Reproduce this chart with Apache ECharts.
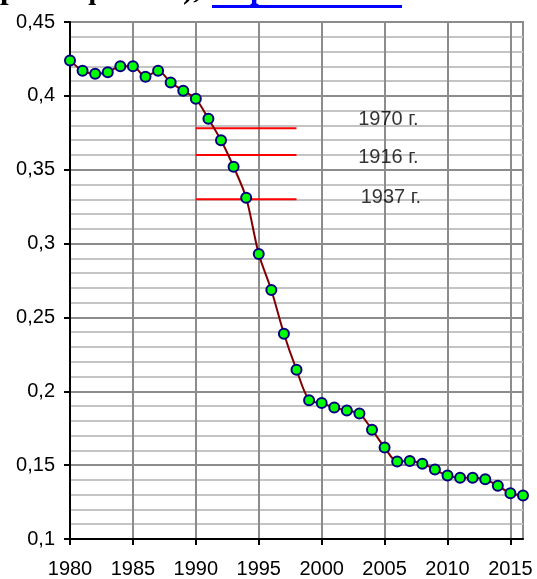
<!DOCTYPE html>
<html>
<head>
<meta charset="utf-8">
<script src="https://cdn.jsdelivr.net/npm/echarts@6/dist/echarts.min.js"></script>
<style>
  html, body { margin: 0; padding: 0; background: #fff; }
  #chart { width: 537px; height: 579px; }
</style>
</head>
<body>
<div id="chart"></div>
<script>
var years = [1980, 1981, 1982, 1983, 1984, 1985, 1986, 1987, 1988, 1989,
  1990, 1991, 1992, 1993, 1994, 1995, 1996, 1997, 1998, 1999,
  2000, 2001, 2002, 2003, 2004, 2005, 2006, 2007, 2008, 2009,
  2010, 2011, 2012, 2013, 2014, 2015, 2016];
var values = [0.424, 0.417, 0.415, 0.416, 0.420, 0.420, 0.413, 0.417, 0.409, 0.4035,
  0.398, 0.3845, 0.370, 0.352, 0.331, 0.293, 0.2686, 0.239, 0.2146, 0.194,
  0.192, 0.189, 0.187, 0.185, 0.174, 0.162, 0.1525, 0.1528, 0.151, 0.147,
  0.143, 0.1415, 0.1415, 0.1404, 0.136, 0.131, 0.1295];
var xTicks = [1980, 1985, 1990, 1995, 2000, 2005, 2010, 2015];

// reference levels (red lines) and their captions
var refFrom = 1990, refTo = 1998;
var refLevels = [0.378, 0.36, 0.33];
var refLabels = ['1970 г.', '1916 г.', '1937 г.'];
var refLabelPos = [[2002.9, 0.384], [2002.9, 0.358], [2003.1, 0.3315]];

var chart = echarts.init(document.getElementById('chart'));

var series = [];
refLevels.forEach(function (v, i) {
  series.push({
    type: 'line',
    data: [[refFrom, v], [refTo, v]],
    symbol: 'none',
    silent: true,
    lineStyle: { color: '#ff0000', width: 2 },
    z: 2
  });
});
series.push({
  type: 'line',
  data: years.map(function (y, i) { return [y, values[i]]; }),
  smooth: 0.3,
  symbol: 'circle',
  symbolSize: 10,
  lineStyle: { color: '#800000', width: 2 },
  itemStyle: { color: '#00ff00', borderColor: '#000080', borderWidth: 2 },
  z: 3
});
series.push({
  type: 'scatter',
  data: refLabelPos.map(function (p, i) { return { value: p, name: refLabels[i] }; }),
  symbolSize: 0,
  silent: true,
  label: {
    show: true,
    position: [0, 0],
    align: 'left',
    verticalAlign: 'middle',
    formatter: '{b}',
    color: '#000',
    fontFamily: 'Liberation Sans, Arial',
    fontSize: 20
  },
  z: 4
});

var option = {
  animation: false,
  grid: {
    left: 70, right: 14, top: 22, bottom: 40,
    show: true,
    borderColor: '#8c8c8c',
    borderWidth: 2
  },
  graphic: [
    {
      type: 'text', left: 0, top: -26,
      style: {
        text: 'рах и фактах), ',
        font: 'bold 31px "Liberation Serif", "Times New Roman"',
        fill: '#000'
      }
    },
    {
      type: 'text', left: 212, top: -26,
      style: {
        text: 'http://ren.ru',
        font: 'bold 31px "Liberation Serif", "Times New Roman"',
        fill: '#0000ff'
      }
    },
    {
      type: 'rect', shape: { x: 212, y: 5, width: 190, height: 3 },
      style: { fill: '#0000ff' }
    }
  ],
  xAxis: {
    type: 'value',
    min: 1980,
    max: 2016,
    interval: 5,
    axisLine: { show: true, onZero: false, lineStyle: { color: '#000', width: 2 } },
    axisTick: { show: true, length: 6, customValues: xTicks, lineStyle: { color: '#000', width: 2 } },
    axisLabel: {
      customValues: xTicks,
      margin: 20,
      color: '#000',
      fontFamily: 'Liberation Sans, Arial',
      fontSize: 20,
      formatter: function (v) { return String(v); }
    },
    splitLine: { show: true, lineStyle: { color: '#8c8c8c', width: 2 } }
  },
  yAxis: {
    type: 'value',
    min: 0.1,
    max: 0.45,
    interval: 0.05,
    axisLine: { show: true, lineStyle: { color: '#000', width: 2 } },
    axisTick: { show: true, length: 6, lineStyle: { color: '#000', width: 2 } },
    axisLabel: {
      margin: 15,
      color: '#000',
      fontFamily: 'Liberation Sans, Arial',
      fontSize: 20,
      formatter: function (v) {
        return String(Math.round(v * 100) / 100).replace('.', ',');
      }
    },
    splitLine: { show: true, lineStyle: { color: '#8c8c8c', width: 2 } },
    minorTick: { show: false, splitNumber: 5 },
    minorSplitLine: { show: true, lineStyle: { color: '#c4c4c4', width: 2 } }
  },
  series: series
};
chart.setOption(option);
</script>
</body>
</html>
